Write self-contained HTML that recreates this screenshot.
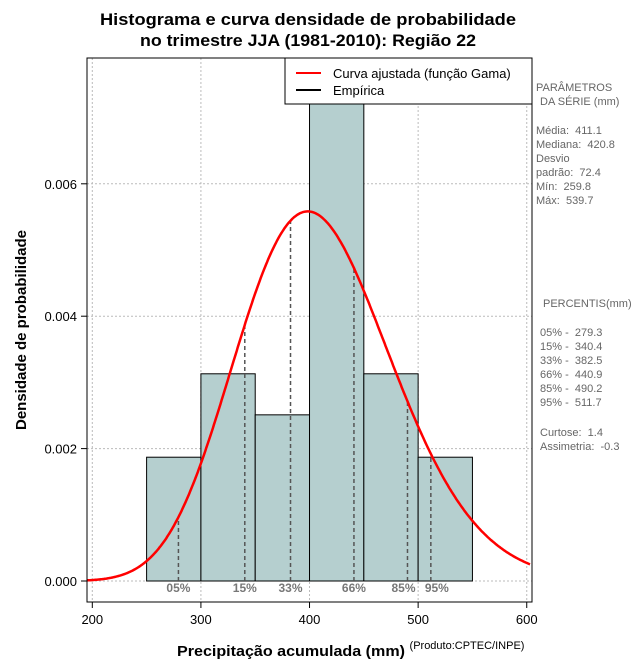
<!DOCTYPE html>
<html><head><meta charset="utf-8"><style>
body{margin:0;background:#fff}
svg text{font-family:"Liberation Sans",sans-serif;white-space:pre}
</style></head><body>
<svg id="c" width="640" height="660" viewBox="0 0 640 660" xmlns="http://www.w3.org/2000/svg">
<text x="308" y="25" text-anchor="middle" font-size="17" font-weight="bold" textLength="416" lengthAdjust="spacingAndGlyphs">Histograma e curva densidade de probabilidade</text>
<text x="308" y="46" text-anchor="middle" font-size="17" font-weight="bold" textLength="336" lengthAdjust="spacingAndGlyphs">no trimestre JJA (1981-2010): Região 22</text>
<g id="grid"></g>
<g id="bars"></g>
<g id="pct"></g>
<path id="curve" fill="none" stroke="#ff0000" stroke-width="2.5"/>
<rect x="87" y="58" width="445" height="544" fill="none" stroke="#000"/>
<g id="axes"></g>
<text x="291" y="656" text-anchor="middle" font-size="15" font-weight="bold" textLength="228" lengthAdjust="spacingAndGlyphs">Precipitação acumulada (mm)</text>
<text x="467" y="649" text-anchor="middle" font-size="11">(Produto:CPTEC/INPE)</text>
<text transform="translate(26,330) rotate(-90)" text-anchor="middle" font-size="15" font-weight="bold">Densidade de probabilidade</text>
<g>
<rect x="285" y="58" width="247" height="46" fill="#fff" stroke="#000"/>
<line x1="296" y1="73" x2="321" y2="73" stroke="#ff0000" stroke-width="2"/>
<line x1="296" y1="90" x2="321" y2="90" stroke="#000" stroke-width="2"/>
<text x="333" y="78" font-size="13">Curva ajustada (função Gama)</text>
<text x="333" y="95" font-size="13">Empírica</text>
</g>
<g font-size="11" fill="#666">
<text x="536" y="91">PARÂMETROS</text><text x="540" y="105">DA SÉRIE (mm)</text>
<text x="536" y="134">Média:  411.1</text><text x="536" y="148">Mediana:  420.8</text>
<text x="536" y="162">Desvio</text><text x="536" y="176">padrão:  72.4</text>
<text x="536" y="190">Mín:  259.8</text><text x="536" y="204">Máx:  539.7</text>
<text x="543" y="307">PERCENTIS(mm)</text>
<text x="540" y="336">05% -  279.3</text><text x="540" y="350">15% -  340.4</text>
<text x="540" y="364">33% -  382.5</text><text x="540" y="378">66% -  440.9</text>
<text x="540" y="392">85% -  490.2</text><text x="540" y="406">95% -  511.7</text>
<text x="540" y="436">Curtose:  1.4</text><text x="540" y="450">Assimetria:  -0.3</text>
</g>
</svg>
<script>
const binStarts=[250,300,350,400,450,500];
const binDens=[0.00187,0.00313,0.00251,0.0081,0.00313,0.00187];
const pctVals=[279.3,340.4,382.5,440.9,490.2,511.7];
const pctLabels=["05%","15%","33%","66%","85%","95%"];
const fitMean=[411.1];const fitSd=[72.4];
const xTicks=[200,300,400,500,600];
const yTicks=[0,0.002,0.004,0.006];
const yTickLabels=["0.000","0.002","0.004","0.006"];
const NS="http://www.w3.org/2000/svg";
const X=v=>92.3+(v-200)*1.0861;
const Y=v=>581-v*66.2e3;
const T=58,B=602,L=87,R=532;
function el(t,a,p){const e=document.createElementNS(NS,t);for(const k in a)e.setAttribute(k,a[k]);document.getElementById(p).appendChild(e);return e;}
function lgam(z){const g=7,c=[0.99999999999980993,676.5203681218851,-1259.1392167224028,771.32342877765313,-176.61502916214059,12.507343278686905,-0.13857109526572012,9.9843695780195716e-6,1.5056327351493116e-7];z-=1;let x=c[0];for(let i=1;i<g+2;i++)x+=c[i]/(z+i);const t=z+g+0.5;return 0.5*Math.log(2*Math.PI)+(z+0.5)*Math.log(t)-t+Math.log(x);}
const k=(fitMean[0]/fitSd[0])**2, th=fitSd[0]**2/fitMean[0];
const dens=x=>Math.exp((k-1)*Math.log(x)-x/th-lgam(k)-k*Math.log(th));
xTicks.forEach(v=>{const g=el('line',{x1:X(v),x2:X(v),y1:T,y2:B,stroke:'#bbb','stroke-dasharray':'2,2'},'grid');

const t=el('line',{x1:X(v),x2:X(v),y1:B,y2:B+6,stroke:'#000'},'axes');
const l=el('text',{x:X(v),y:B+22,'text-anchor':'middle','font-size':13},'axes');l.textContent=v;
});
yTicks.forEach((v,i)=>{const g=el('line',{x1:L,x2:R,y1:Y(v),y2:Y(v),stroke:'#bbb','stroke-dasharray':'2,2'},'grid');

el('line',{x1:L-6,x2:L,y1:Y(v),y2:Y(v),stroke:'#000'},'axes');
const l=el('text',{x:L-10,y:Y(v)+5,'text-anchor':'end','font-size':13},'axes');l.textContent=yTickLabels[i];
});
binStarts.forEach((s,i)=>{const top=Math.max(Y(binDens[i]),T);
const r=el('rect',{x:X(s),y:top,width:X(s+50)-X(s),height:Y(0)-top,fill:'#b5cfcf',stroke:'#000','stroke-width':1},'bars');
});
pctVals.forEach((v,i)=>{const ln=el('line',{x1:X(v),x2:X(v),y1:Y(0),y2:Y(dens(v)),stroke:'#555','stroke-width':1.5,'stroke-dasharray':'4,3'},'pct');

const t=el('text',{x:X(v)+(i==4?-4:i==5?6:0),y:Y(0)+11,'text-anchor':'middle','font-size':12,'font-weight':'bold',fill:'#777'},'pct');t.textContent=pctLabels[i];
});
let d='';for(let v=195;v<=603;v+=1){d+=(d?'L':'M')+X(v).toFixed(1)+','+Y(dens(v)).toFixed(1);}
document.getElementById('curve').setAttribute('d',d);
</script>
</body></html>
